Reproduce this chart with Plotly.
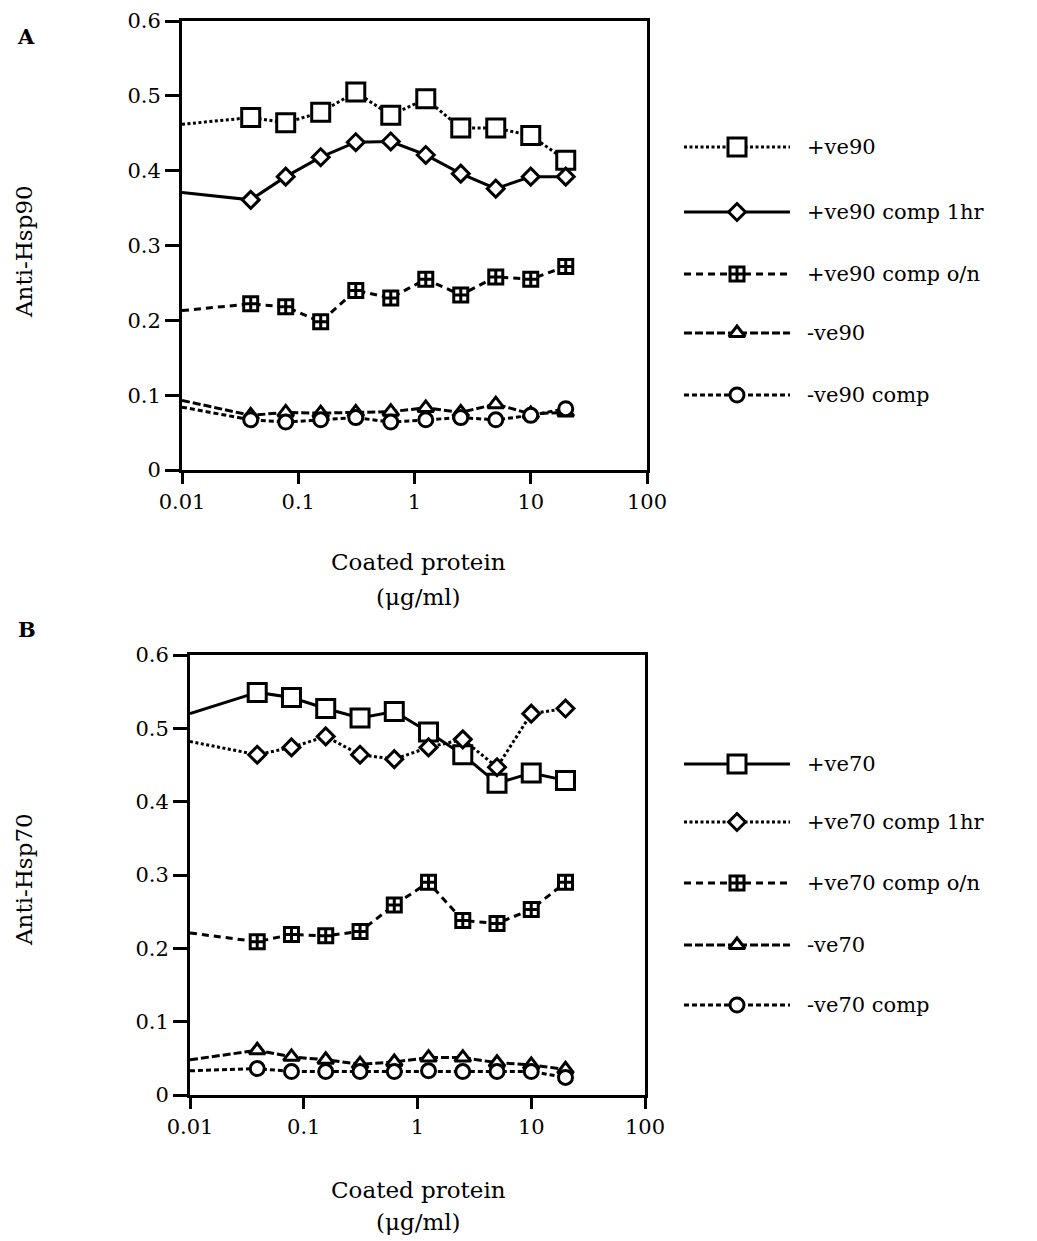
import plotly.graph_objects as go

W, H = 1037, 1241

# x values: first entry is the line start at the axis edge (no marker)
conc = [0.01, 0.039, 0.078, 0.156, 0.3125, 0.625, 1.25, 2.5, 5, 10, 20]
x_ticks = [0.01, 0.1, 1, 10, 100]
x_ticktext = ["0.01", "0.1", "1", "10", "100"]
y_ticks = [0, 0.1, 0.2, 0.3, 0.4, 0.5, 0.6]
y_ticktext = ["0", "0.1", "0.2", "0.3", "0.4", "0.5", "0.6"]

# Panel A  (Anti-Hsp90)
a_names = ["+ve90", "+ve90 comp 1hr", "+ve90 comp o/n", "-ve90", "-ve90 comp"]
a_pos90 = [0.462, 0.471, 0.464, 0.478, 0.505, 0.474, 0.496, 0.457, 0.457, 0.447, 0.414]
a_pos90_1hr = [0.371, 0.361, 0.392, 0.418, 0.438, 0.439, 0.421, 0.396, 0.376, 0.392, 0.392]
a_pos90_on = [0.213, 0.222, 0.218, 0.198, 0.240, 0.230, 0.255, 0.234, 0.258, 0.255, 0.272]
a_neg90 = [0.093, 0.073, 0.077, 0.076, 0.077, 0.078, 0.083, 0.077, 0.088, 0.075, 0.077]
a_neg90_comp = [0.084, 0.067, 0.064, 0.067, 0.070, 0.064, 0.067, 0.070, 0.067, 0.073, 0.082]

# Panel B  (Anti-Hsp70)
b_names = ["+ve70", "+ve70 comp 1hr", "+ve70 comp o/n", "-ve70", "-ve70 comp"]
b_pos70 = [0.520, 0.549, 0.542, 0.527, 0.514, 0.523, 0.495, 0.464, 0.425, 0.439, 0.429]
b_pos70_1hr = [0.482, 0.464, 0.474, 0.489, 0.464, 0.458, 0.474, 0.485, 0.447, 0.520, 0.527]
b_pos70_on = [0.221, 0.209, 0.219, 0.217, 0.223, 0.259, 0.290, 0.238, 0.234, 0.253, 0.290]
b_neg70 = [0.048, 0.061, 0.052, 0.048, 0.042, 0.045, 0.051, 0.051, 0.044, 0.041, 0.035]
b_neg70_comp = [0.033, 0.036, 0.032, 0.032, 0.032, 0.032, 0.033, 0.032, 0.032, 0.032, 0.024]

FONT = "DejaVu Serif"

DOT = "3px,2.5px"
SOLID = "solid"
DASH_ON = "7px,5px"
DASH_NEG = "8px,3px"
DASH_NEGC = "5px,3px"

# (values, dash, symbol, marker size)
a_series = [
    (a_pos90, DOT, "square", 18),
    (a_pos90_1hr, SOLID, "diamond", 13),
    (a_pos90_on, DASH_ON, "square-cross", 14),
    (a_neg90, DASH_NEG, "triangle-up", 14),
    (a_neg90_comp, DASH_NEGC, "circle", 14),
]
b_series = [
    (b_pos70, SOLID, "square", 18),
    (b_pos70_1hr, DOT, "diamond", 13),
    (b_pos70_on, DASH_ON, "square-cross", 14),
    (b_neg70, DASH_NEG, "triangle-up", 14),
    (b_neg70_comp, DASH_NEGC, "circle", 14),
]

fig = go.Figure()
LW = 3


def add_panel(series, xa, ya):
    for vals, dash, sym, size in series:
        fig.add_trace(go.Scatter(
            x=conc, y=vals, mode="lines", xaxis=xa, yaxis=ya,
            line=dict(color="black", width=LW, dash=dash),
            showlegend=False, hoverinfo="skip", cliponaxis=True))
    for vals, dash, sym, size in series:
        fig.add_trace(go.Scatter(
            x=conc[1:], y=vals[1:], mode="markers", xaxis=xa, yaxis=ya,
            marker=dict(symbol=sym, size=size, color="white",
                        line=dict(color="black", width=LW)),
            showlegend=False, cliponaxis=False))


add_panel(a_series, "x", "y")
add_panel(b_series, "x2", "y2")

# custom legends drawn on a pixel overlay axis
a_leg_rows = [147, 212, 274, 333, 395]
b_leg_rows = [764, 822, 883, 945, 1005]
leg_x0, leg_xm, leg_x1, leg_text_x = 684, 737, 790, 805


def add_legend(series, names, rows):
    for (vals, dash, sym, size), name, yy in zip(series, names, rows):
        fig.add_trace(go.Scatter(
            x=[leg_x0, leg_x1], y=[yy, yy], mode="lines", xaxis="x3", yaxis="y3",
            line=dict(color="black", width=LW, dash=dash),
            showlegend=False, hoverinfo="skip"))
        fig.add_trace(go.Scatter(
            x=[leg_xm], y=[yy], mode="markers", xaxis="x3", yaxis="y3",
            marker=dict(symbol=sym, size=size, color="white",
                        line=dict(color="black", width=LW)),
            showlegend=False, hoverinfo="skip"))
        fig.add_annotation(x=leg_text_x, y=yy, xref="x3", yref="y3", text=name,
                           showarrow=False, xanchor="left", yanchor="middle",
                           font=dict(family=FONT, size=21, color="black"))


add_legend(a_series, a_names, a_leg_rows)
add_legend(b_series, b_names, b_leg_rows)

axis_common = dict(showline=True, linecolor="black", linewidth=3, mirror=True,
                   ticks="outside", tickwidth=3, tickcolor="black", showgrid=False,
                   zeroline=False, automargin=False,
                   tickfont=dict(family=FONT, size=21, color="black"))

fig.update_layout(
    width=W, height=H, margin=dict(l=0, r=0, t=0, b=0, pad=0, autoexpand=False),
    paper_bgcolor="white", plot_bgcolor="rgba(0,0,0,0)", showlegend=False,
    xaxis=dict(domain=[182 / W, 647 / W], anchor="y", type="log", range=[-2, 2],
               tickvals=x_ticks, ticktext=x_ticktext, ticklen=11, **axis_common),
    yaxis=dict(domain=[1 - 470 / H, 1 - 21 / H], anchor="x", range=[0, 0.6],
               tickvals=y_ticks, ticktext=y_ticktext, ticklen=14, **axis_common),
    xaxis2=dict(domain=[190 / W, 645 / W], anchor="y2", type="log", range=[-2, 2],
                tickvals=x_ticks, ticktext=x_ticktext, ticklen=11, **axis_common),
    yaxis2=dict(domain=[1 - 1095 / H, 1 - 655 / H], anchor="x2", range=[0, 0.6],
                tickvals=y_ticks, ticktext=y_ticktext, ticklen=14, **axis_common),
    xaxis3=dict(domain=[0, 1], range=[0, W], visible=False, anchor="y3", automargin=False),
    yaxis3=dict(domain=[0, 1], range=[H, 0], visible=False, anchor="x3", automargin=False),
)

texts = [
    ("A", 26, 36, 0, True),
    ("B", 27, 629, 0, True),
    ("Anti-Hsp90", 24, 252, -90, False),
    ("Anti-Hsp70", 24, 880, -90, False),
    ("Coated protein", 418, 562, 0, False),
    ("(μg/ml)", 418, 597, 0, False),
    ("Coated protein", 418, 1190, 0, False),
    ("(μg/ml)", 418, 1222, 0, False),
]
for t, xx, yy, ang, bold in texts:
    fig.add_annotation(x=xx, y=yy, xref="x3", yref="y3",
                       text=f"<b>{t}</b>" if bold else t, textangle=ang,
                       showarrow=False, xanchor="center", yanchor="middle",
                       font=dict(family=FONT, size=21 if bold else 23, color="black"))

fig.write_html("out.html")
